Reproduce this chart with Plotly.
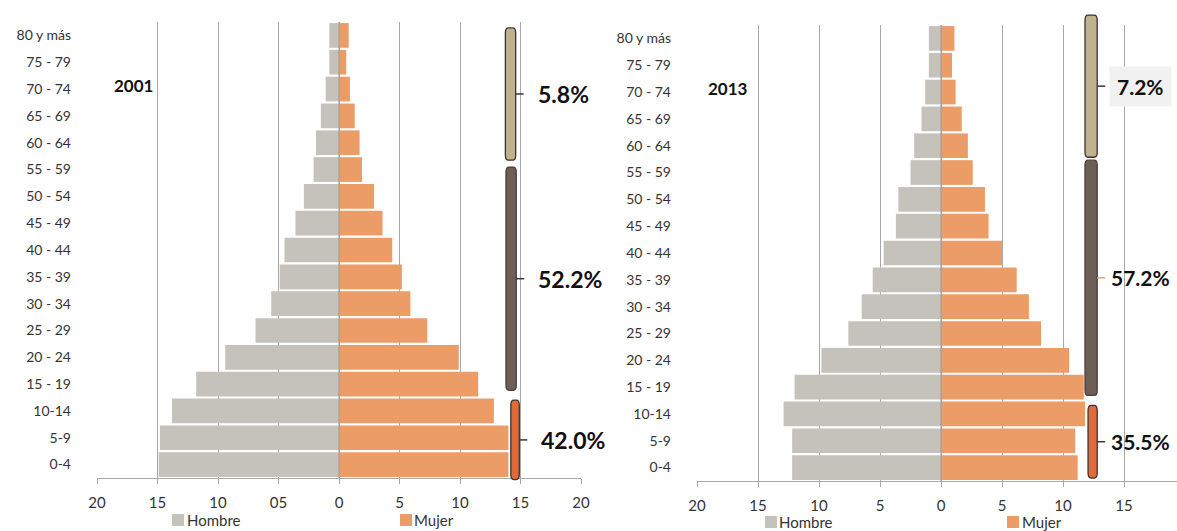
import plotly.graph_objects as go

W, H = 1177, 531
FONT = "Lato, Carlito, Calibri, sans-serif"

# Age groups, youngest at the bottom of the pyramid
ages = ["0-4", "5-9", "10-14", "15 - 19", "20 - 24", "25 - 29", "30 - 34",
        "35 - 39", "40 - 44", "45 - 49", "50 - 54", "55 - 59", "60 - 64",
        "65 - 69", "70 - 74", "75 - 79", "80 y más"]

# Percent of each sex's population per age group
hombre_2001 = [14.9, 14.8, 13.8, 11.8, 9.4, 6.9, 5.6, 4.9, 4.5, 3.6, 2.9,
               2.1, 1.9, 1.5, 1.1, 0.8, 0.8]
mujer_2001 = [14.0, 14.0, 12.8, 11.5, 9.9, 7.3, 5.9, 5.2, 4.4, 3.6, 2.9,
              1.9, 1.7, 1.3, 0.9, 0.6, 0.8]
hombre_2013 = [12.2, 12.2, 12.9, 12.0, 9.8, 7.6, 6.5, 5.6, 4.7, 3.7, 3.5,
               2.5, 2.2, 1.6, 1.3, 1.0, 1.0]
mujer_2013 = [11.2, 11.0, 11.8, 11.7, 10.5, 8.2, 7.2, 6.2, 5.0, 3.9, 3.6,
              2.6, 2.2, 1.7, 1.2, 0.9, 1.1]

# Broad age bands: (first age index, last age index)
bandas = [(0, 2), (3, 11), (12, 16)]
pct_2001 = [42.0, 52.2, 5.8]
pct_2013 = [35.5, 57.2, 7.2]

C_HOMBRE = "#C5C2BB"
C_MUJER = "#EC9C66"
C_GRID = "#A8A8A8"
C_TEXT = "#333333"
BAND_FILL = ["#DF6B3B", "#6E5E56", "#BFB08E"]
BAND_EDGE = "#3B3330"

N = len(ages)

panels = [
    dict(year="2001", hombre=hombre_2001, mujer=mujer_2001, pct=pct_2001,
         xa="x", ya="y", px_x=(97, 581), px_y=(22, 478),
         xrange=[-20, 20],
         tickvals=[-20, -15, -10, -5, 0, 5, 10, 15, 20],
         ticktext=["20", "15", "10", "05", "0", "5", "10", "15", "20"],
         # bracket horizontal extents (data units) per band
         bx=[(14.2, 14.9), (13.8, 14.65), (13.75, 14.6)],
         # bracket vertical extents (category units) per band
         by=[(-0.56, 2.40), (2.77, 11.09), (11.35, 16.28)],
         year_pos=(-17.0, 14.15),
         legend_y=520, legend_h=(172, 187), legend_m=(400, 414),
         label_bg=None, mid_tick="#3B3330", pct_size=23, pct_shift=20),
    dict(year="2013", hombre=hombre_2013, mujer=mujer_2013, pct=pct_2013,
         xa="x2", ya="y2", px_x=(697, 1177), px_y=(25, 481),
         xrange=[-20, 19.34],
         tickvals=[-20, -15, -10, -5, 0, 5, 10, 15],
         ticktext=["20", "15", "10", "5", "0", "5", "10", "15"],
         bx=[(12.05, 12.8), (11.8, 12.8), (11.8, 12.8)],
         by=[(-0.39, 2.32), (2.69, 11.46), (11.57, 16.87)],
         year_pos=(-17.5, 14.15),
         legend_y=522, legend_h=(765, 779), legend_m=(1007, 1022),
         label_bg="#F1F1F1", mid_tick="#E9A27A", pct_size=21, pct_shift=12),
]

fig = go.Figure()
shapes = []
annotations = []

for i, p in enumerate(panels):
    xa, ya = p["xa"], p["ya"]
    fig.add_trace(go.Bar(
        y=ages, x=[-v for v in p["hombre"]], orientation="h", name="Hombre",
        marker=dict(color=C_HOMBRE, line=dict(width=0)),
        xaxis=xa, yaxis=ya, showlegend=False,
        customdata=p["hombre"], hovertemplate="%{y}: %{customdata}%<extra>Hombre</extra>"))
    fig.add_trace(go.Bar(
        y=ages, x=p["mujer"], orientation="h", name="Mujer",
        marker=dict(color=C_MUJER, line=dict(width=0)),
        xaxis=xa, yaxis=ya, showlegend=False,
        hovertemplate="%{y}: %{x}%<extra>Mujer</extra>"))

    x0p, x1p = p["px_x"]
    y0p, y1p = p["px_y"]
    ax_suffix = "" if i == 0 else "2"
    fig.update_layout({
        f"xaxis{ax_suffix}": dict(
            domain=[x0p / W, x1p / W], range=p["xrange"], anchor=ya,
            tickvals=p["tickvals"], ticktext=p["ticktext"],
            showgrid=True, gridcolor=C_GRID, gridwidth=1,
            zeroline=False, showline=True, linecolor=C_GRID, linewidth=1,
            ticks="outside", ticklen=5, tickcolor=C_GRID,
            tickfont=dict(family=FONT, size=15, color=C_TEXT),
            ticklabelstandoff=6, automargin=False, fixedrange=True),
        f"yaxis{ax_suffix}": dict(
            domain=[1 - y1p / H, 1 - y0p / H], anchor=xa,
            type="category", categoryorder="array", categoryarray=ages,
            range=[-0.5, N - 0.5], showgrid=False, zeroline=False,
            showline=False, ticks="",
            tickfont=dict(family=FONT, size=14, color=C_TEXT),
            ticklabelstandoff=25, automargin=False, fixedrange=True),
    })

    pw = x1p - x0p
    ph = y1p - y0p
    r0, r1 = p["xrange"]

    def xd(v, r0=r0, r1=r1):
        return (v - r0) / (r1 - r0)

    def yd(c):
        return (c + 0.5) / N

    xdom = f"{xa} domain"
    ydom = f"{ya} domain"

    # vertical axis line at zero, drawn over the bars
    shapes.append(dict(type="line", xref=xa, yref=ydom, x0=0, x1=0, y0=0, y1=1,
                       line=dict(color="#9A9A9A", width=1), layer="above"))

    # bands: rounded bracket bars with a tick and percentage label
    for b, (bxx, byy, pct) in enumerate(zip(p["bx"], p["by"], p["pct"])):
        xl, xr = xd(bxx[0]), xd(bxx[1])
        yb, yt = yd(byy[0]), yd(byy[1])
        rx = 3 / pw
        ry = 5 / ph
        path = (f"M {xl},{yb + ry} L {xl},{yt - ry} Q {xl},{yt} {xl + rx},{yt} "
                f"L {xr - rx},{yt} Q {xr},{yt} {xr},{yt - ry} "
                f"L {xr},{yb + ry} Q {xr},{yb} {xr - rx},{yb} "
                f"L {xl + rx},{yb} Q {xl},{yb} {xl},{yb + ry} Z")
        edge = BAND_EDGE if b != 1 else "#4A3F3A"
        shapes.append(dict(type="path", xref=xdom, yref=ydom, path=path,
                           fillcolor=BAND_FILL[b], line=dict(color=edge, width=1.3),
                           layer="above"))
        ym = (yb + yt) / 2
        tick_col = p["mid_tick"] if b == 1 else BAND_EDGE
        shapes.append(dict(type="line", xref=xdom, yref=ydom,
                           x0=xr, x1=xr + 8 / pw, y0=ym, y1=ym,
                           line=dict(color=tick_col, width=1.5), layer="above"))
        ann = dict(xref=xdom, yref=ydom, x=xr, y=ym, xshift=p["pct_shift"],
                   xanchor="left", yanchor="middle", showarrow=False,
                   text=f"<b>{pct:.1f}%</b>",
                   font=dict(family=FONT, size=p["pct_size"], color="#111111"))
        if b == 2 and p["label_bg"]:
            ann.update(bgcolor=p["label_bg"], borderpad=7)
        annotations.append(ann)

    # year label
    annotations.append(dict(xref=xa, yref=ya, x=p["year_pos"][0], y=p["year_pos"][1],
                            text=f"<b>{p['year']}</b>", showarrow=False,
                            xanchor="center", yanchor="middle",
                            font=dict(family=FONT, size=17, color="#111111")))

    # legend entries below the axis
    ly = 1 - p["legend_y"] / H
    for (sq_x, tx), col, lab in [(p["legend_h"], C_HOMBRE, "Hombre"),
                                 (p["legend_m"], C_MUJER, "Mujer")]:
        shapes.append(dict(type="rect", xref="paper", yref="paper",
                           x0=(sq_x) / W, x1=(sq_x + 12) / W,
                           y0=ly - 6 / H, y1=ly + 6 / H,
                           fillcolor=col, line=dict(width=0)))
        annotations.append(dict(xref="paper", yref="paper", x=(tx - 2) / W, y=ly,
                                text=lab, showarrow=False, xanchor="left",
                                yanchor="middle",
                                font=dict(family=FONT, size=15, color=C_TEXT)))

fig.update_layout(
    width=W, height=H, autosize=False,
    margin=dict(l=0, r=0, t=0, b=0),
    paper_bgcolor="white", plot_bgcolor="white",
    barmode="relative", bargap=0.08,
    showlegend=False,
    shapes=shapes, annotations=annotations,
    font=dict(family=FONT, color=C_TEXT),
)

fig.write_html("out.html", config={"displayModeBar": False})
